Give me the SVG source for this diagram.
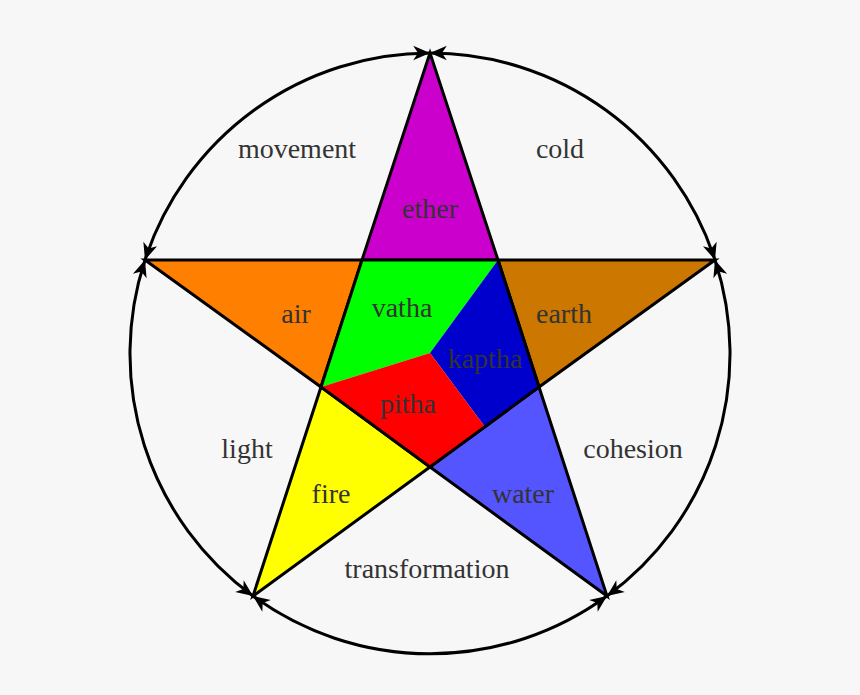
<svg xmlns="http://www.w3.org/2000/svg" width="860" height="695" viewBox="0 0 860 695">
<style>
.r{stroke:#000;stroke-width:3;stroke-linejoin:miter}
.a{fill:none;stroke:#000;stroke-width:3;marker-start:url(#m);marker-end:url(#m)}
text{font-family:"Liberation Serif",serif;font-size:28px;fill:#333;text-anchor:middle}
</style>
<defs><marker id="m" viewBox="0 0 10 10" refX="9" refY="5" markerWidth="8" markerHeight="8" orient="auto-start-reverse" markerUnits="userSpaceOnUse" style="overflow:visible"><path d="M-12,-4 L9,5 L-12,14 L-6,5 Z" transform="translate(0,0)"/></marker></defs>
<rect width="860" height="695" fill="#f7f7f7"/>
<g id="connectors">
<path class="a" d="M430,53 A300,300 0 0 1 715,260"/>
<path class="a" d="M715,260 A300,300 0 0 1 607,596"/>
<path class="a" d="M607,596 A300,300 0 0 1 253,596"/>
<path class="a" d="M253,596 A300,300 0 0 1 145,260"/>
<path class="a" d="M145,260 A300,300 0 0 1 430,53"/>
</g>
<g id="ether"><path class="r" fill="#cc00cc" d="M430,53 L362,260 L498,260 Z"/><text x="430" y="218">ether</text></g>
<g id="air"><path class="r" fill="#ff7f00" d="M145,260 L362,260 L321,387 Z"/><text x="296" y="323">air</text></g>
<g id="earth"><path class="r" fill="#cc7700" d="M498,260 L715,260 L539,387 Z"/><text x="564" y="323">earth</text></g>
<g id="fire"><path class="r" fill="#ffff00" d="M321,387 L430,467 L253,596 Z"/><text x="331" y="503">fire</text></g>
<g id="water"><path class="r" fill="#5555ff" d="M430,467 L539,387 L607,596 Z"/><text x="523" y="503">water</text></g>
<g id="vatha"><path fill="#00ff00" d="M362,260 L498,260 L430,353 L321,387 Z"/><text x="402" y="317">vatha</text></g>
<g id="kaptha"><path fill="#0000cc" d="M498,260 L539,387 L485,427 L430,353 Z"/><text x="485" y="368">kaptha</text></g>
<g id="pitha"><path fill="#ff0000" d="M321,387 L430,353 L485,427 L430,467 Z"/><text x="408" y="413">pitha</text></g>
<g id="outline"><path fill="none" stroke="#000" stroke-width="3" d="M362,260 L498,260 L539,387 L430,467 L321,387 Z"/></g>
<g id="labels">
<text x="297" y="158">movement</text>
<text x="560" y="158">cold</text>
<text x="247" y="458">light</text>
<text x="633" y="458">cohesion</text>
<text x="427" y="578">transformation</text>
</g>
</svg>
